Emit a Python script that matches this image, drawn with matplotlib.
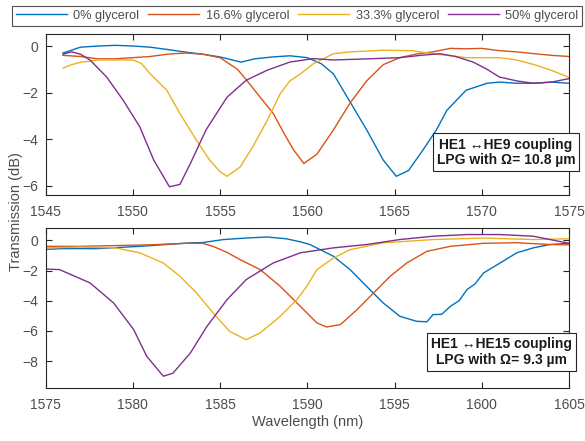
import matplotlib
matplotlib.use("Agg")
import matplotlib.pyplot as plt

plt.rcParams['font.family'] = ['Liberation Sans', 'DejaVu Sans']

labels = ["0% glycerol", "16.6% glycerol", "33.3% glycerol", "50% glycerol"]
colors = ["#0072BD", "#D95319", "#EDB120", "#7E2F8E"]

# ----- top panel: HE1 <-> HE9, 1545-1575 nm -----
top_wl_0 = [1546, 1547, 1548, 1549, 1550, 1551, 1552, 1553, 1554, 1555, 1556.2, 1557, 1558,
            1559, 1560, 1560.8, 1561.5, 1562.45, 1563.4, 1564.35, 1565.1, 1565.8, 1566.6,
            1567.4, 1568, 1569.1, 1570.3, 1571, 1572, 1573, 1574, 1575]
top_db_0 = [-0.3, -0.05, 0.0, 0.03, 0.0, -0.05, -0.15, -0.26, -0.35, -0.47, -0.69, -0.55, -0.47,
            -0.42, -0.5, -0.76, -1.2, -2.4, -3.6, -4.9, -5.6, -5.35, -4.5,
            -3.6, -2.76, -1.9, -1.6, -1.55, -1.6, -1.6, -1.55, -1.6]

top_wl_1 = [1546, 1547, 1548, 1549, 1550, 1551, 1552, 1553, 1554, 1555, 1556, 1556.5, 1557.3,
            1558.05, 1558.7, 1559.2, 1559.8, 1560.55, 1561.5, 1562.45, 1563.4, 1564.35, 1565.3,
            1566.2, 1567.2, 1568.2, 1569.1, 1570, 1571, 1572, 1573, 1574, 1575]
top_db_1 = [-0.4, -0.45, -0.55, -0.55, -0.5, -0.45, -0.35, -0.3, -0.35, -0.5, -1.0, -1.45, -2.2,
            -2.9, -3.8, -4.45, -5.05, -4.65, -3.6, -2.45, -1.5, -0.8, -0.5,
            -0.35, -0.25, -0.1, -0.12, -0.1, -0.2, -0.25, -0.33, -0.4, -0.45]

top_wl_2 = [1546, 1546.5, 1547, 1548, 1549, 1550, 1550.5, 1551, 1551.95, 1552.7, 1553.65, 1554.4,
            1555.0, 1555.4, 1556.15, 1556.9, 1557.7, 1558.45, 1559.0, 1559.6, 1560.35, 1561.5,
            1562.5, 1564.3, 1566, 1567.2, 1569.1, 1571, 1572, 1573, 1574, 1575]
top_db_2 = [-0.95, -0.8, -0.7, -0.6, -0.6, -0.6, -0.75, -1.2, -1.9, -2.9, -4.05, -4.9,
            -5.4, -5.6, -5.2, -4.3, -3.2, -2.05, -1.5, -1.2, -0.76, -0.33,
            -0.25, -0.18, -0.2, -0.33, -0.5, -0.5, -0.6, -0.8, -1.05, -1.35]

top_wl_3 = [1546, 1546.5, 1547, 1547.55, 1548.5, 1549.45, 1550.4, 1551.2, 1552.1, 1552.7, 1553.3,
            1554.2, 1555.4, 1556.5, 1557.7, 1559, 1560.35, 1561.5, 1563.5, 1565.3, 1566.5,
            1567.6, 1568.5, 1569.5, 1570.3, 1571, 1572, 1572.95, 1574, 1575]
top_db_3 = [-0.35, -0.25, -0.35, -0.6, -1.33, -2.33, -3.47, -4.9, -6.05, -5.95, -5.05,
            -3.6, -2.2, -1.47, -1.04, -0.69, -0.54, -0.6, -0.55, -0.5, -0.4,
            -0.33, -0.45, -0.69, -1.0, -1.33, -1.5, -1.6, -1.55, -1.4]

# ----- bottom panel: HE1 <-> HE15, 1575-1605 nm -----
bot_wl_0 = [1575, 1576, 1578, 1580.4, 1583.3, 1584, 1585.2, 1586.5, 1587.7, 1588.8, 1589.6,
            1590.15, 1591.5, 1592.45, 1593.4, 1594.35, 1595.3, 1596.25, 1596.85, 1597.2,
            1597.7, 1598.2, 1598.7, 1599.15, 1599.6, 1600.1, 1601.05, 1602, 1602.95,
            1603.9, 1605]
bot_db_0 = [-0.6, -0.55, -0.55, -0.4, -0.17, -0.15, 0.05, 0.15, 0.22, 0.1, -0.1,
            -0.28, -1.06, -1.94, -3.05, -4.15, -5.03, -5.36, -5.4, -4.92,
            -4.9, -4.37, -4.0, -3.26, -2.9, -2.16, -1.5, -0.83, -0.5,
            -0.28, -0.2]

bot_wl_1 = [1575, 1577, 1579, 1581, 1583, 1584, 1584.6, 1585.4, 1586.15, 1587.3, 1588.45,
            1589.6, 1590.55, 1591.1, 1591.9, 1592.85, 1593.8, 1594.75, 1595.7, 1596.85,
            1598.2, 1600.1, 1602, 1603.9, 1605]
bot_db_1 = [-0.4, -0.4, -0.35, -0.3, -0.2, -0.2, -0.4, -0.8, -1.28, -1.94, -3.05,
            -4.37, -5.47, -5.74, -5.58, -4.59, -3.48, -2.38, -1.5, -0.73,
            -0.4, -0.2, -0.16, -0.28, -0.3]

bot_wl_2 = [1575, 1577, 1579, 1580.4, 1581.75, 1582.7, 1583.65, 1584.6, 1585.55, 1586.5,
            1587.3, 1588.45, 1589.4, 1590.0, 1590.55, 1591.5, 1592.45, 1594.35, 1597.2,
            1600.1, 1602.95, 1605]
bot_db_2 = [-0.5, -0.45, -0.5, -0.83, -1.5, -2.38, -3.48, -4.81, -6.03, -6.58,
            -6.13, -5.03, -3.93, -3.0, -1.94, -1.17, -0.62, -0.17, 0.05,
            0.15, 0.05, 0.1]

bot_wl_3 = [1575, 1575.8, 1577.55, 1578.9, 1580.05, 1580.8, 1581.75, 1582.3, 1583.3, 1584.25,
            1585.4, 1586.5, 1588.05, 1589.6, 1591.5, 1593.4, 1595.3, 1597.2, 1599.15,
            1601.05, 1602.95, 1605]
bot_db_3 = [-1.9, -1.94, -2.82, -4.15, -5.91, -7.68, -9.0, -8.8, -7.46, -5.7,
            -3.93, -2.6, -1.5, -0.83, -0.5, -0.28, 0.05, 0.27, 0.38,
            0.38, 0.27, -0.2]

top_series = [(top_wl_0, top_db_0), (top_wl_1, top_db_1), (top_wl_2, top_db_2), (top_wl_3, top_db_3)]
bot_series = [(bot_wl_0, bot_db_0), (bot_wl_1, bot_db_1), (bot_wl_2, bot_db_2), (bot_wl_3, bot_db_3)]

fig = plt.figure(figsize=(5.85, 4.41), dpi=100)
ax1 = fig.add_axes([0.0778, 0.558, 0.895, 0.364])
ax2 = fig.add_axes([0.0778, 0.1195, 0.895, 0.363])

axis_col = "#262626"
tick_col = "#4d4d4d"
lines = []
for (wl, db), c, lab in zip(top_series, colors, labels):
    ln, = ax1.plot(wl, db, color=c, lw=1.0, label=lab)
    lines.append(ln)
for (wl, db), c in zip(bot_series, colors):
    ax2.plot(wl, db, color=c, lw=1.0)

ax1.set_xlim(1545, 1575)
ax1.set_ylim(-6.4, 0.5)
ax1.set_xticks([1545, 1550, 1555, 1560, 1565, 1570, 1575])
ax1.set_yticks([0, -2, -4, -6])

ax2.set_xlim(1575, 1605)
ax2.set_ylim(-9.8, 0.8)
ax2.set_xticks([1575, 1580, 1585, 1590, 1595, 1600, 1605])
ax2.set_yticks([0, -2, -4, -6, -8])
ax2.set_xlabel("Wavelength (nm)", fontsize=10.5, color=tick_col, labelpad=2)

for ax in (ax1, ax2):
    ax.tick_params(direction='in', length=4, width=0.8, top=True, right=True,
                   labelsize=10, colors=axis_col, labelcolor=tick_col, pad=5)
    ax.tick_params(axis='x', pad=7)
    for sp in ax.spines.values():
        sp.set_color(axis_col)
        sp.set_linewidth(0.8)

fig.text(0.027, 0.52, "Transmission (dB)", rotation=90, ha='center', va='center',
         fontsize=10.5, color=tick_col)

box = dict(boxstyle='square,pad=0.3', facecolor='white', edgecolor=axis_col, linewidth=0.8)
ax1.text(0.8795, 0.2645, "HE1 \u2194HE9 coupling\nLPG with \u03a9= 10.8 \u00b5m", transform=ax1.transAxes,
         ha='center', va='center', fontsize=10, fontweight='bold', color='#1a1a1a',
         bbox=box, linespacing=1.15, clip_on=False, zorder=5)
ax2.text(0.871, 0.227, "HE1 \u2194HE15 coupling\nLPG with \u03a9= 9.3 \u00b5m", transform=ax2.transAxes,
         ha='center', va='center', fontsize=10, fontweight='bold', color='#1a1a1a',
         bbox=box, linespacing=1.15, clip_on=False, zorder=5)

leg = fig.legend(handles=lines, loc='center', bbox_to_anchor=(0.508, 0.964), ncol=4,
                 fontsize=9.2, handlelength=4.0, handletextpad=0.5, columnspacing=0.7,
                 frameon=True, fancybox=False, edgecolor=axis_col, borderpad=0.3,
                 borderaxespad=0)
leg.get_frame().set_linewidth(0.8)
for t in leg.get_texts():
    t.set_color(tick_col)

fig.savefig("out.png", dpi=100)
